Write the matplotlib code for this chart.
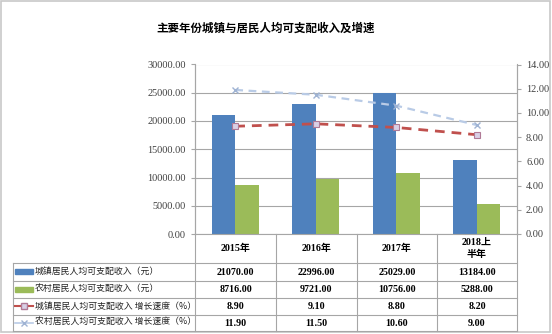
import matplotlib.pyplot as plt
from matplotlib.lines import Line2D
from matplotlib.patches import Rectangle
import numpy as np

plt.rcParams['font.family'] = ['Liberation Serif', 'Noto Sans CJK SC']

# data
years = ['2015年', '2016年', '2017年', '2018上\n半年']
urban_income = [21070.00, 22996.00, 25029.00, 13184.00]
rural_income = [8716.00, 9721.00, 10756.00, 5288.00]
urban_growth = [8.90, 9.10, 8.80, 8.20]
rural_growth = [11.90, 11.50, 10.60, 9.00]
series_names = ['城镇居民人均可支配收入（元）',
                '农村居民人均可支配收入（元）',
                '城镇居民人均可支配收入 增长速度（%）',
                '农村居民人均可支配收入 增长速度（%）']

BLUE = '#4F81BD'
GREEN = '#9BBB59'
RED = '#C0504D'
LBLUE = '#B9CBE6'
GRID = '#A6A6A6'
SQ_FACE = '#D9D0E6'
SQ_EDGE = '#B07A96'
X_EDGE = '#9FB3D3'
CJK = ['Noto Sans CJK SC', 'DejaVu Sans']

W, H = 552, 334
fig = plt.figure(figsize=(W / 100, H / 100), dpi=100)


def fx(px):
    return px / W


def fy(py):
    return 1 - py / H


# plot area in pixels
L, R, T, B = 195, 517, 64.5, 234
ax = fig.add_axes([fx(L), fy(B), fx(R - L), fy(T) - fy(B)])
ax2 = ax.twinx()

x = np.arange(len(years))
bw = 0.29
ax.bar(x - bw / 2, urban_income, bw, color=BLUE, zorder=3)
ax.bar(x + bw / 2, rural_income, bw, color=GREEN, zorder=3)
ax.set_xlim(-0.5, len(years) - 0.5)
ax.set_ylim(0, 30000)
ax.set_yticks(np.arange(0, 30001, 5000))
ax.set_yticklabels([f'{v:.2f}' for v in np.arange(0, 30001, 5000)])
ax.set_xticks([])
ax.grid(axis='y', color=GRID, linewidth=0.8, zorder=0)
ax.set_axisbelow(True)

ax2.plot(x, urban_growth, color=RED, linestyle=(0, (3.5, 2.5)), linewidth=2,
         marker='s', markersize=5, markerfacecolor=SQ_FACE,
         markeredgecolor=SQ_EDGE, markeredgewidth=0.8, zorder=4)
ax2.plot(x, rural_growth, color=LBLUE, linestyle=(0, (3.5, 2.5)), linewidth=1.6,
         marker='x', markersize=5, markeredgecolor=X_EDGE,
         markeredgewidth=1, zorder=4)
ax2.set_ylim(0, 14)
ax2.set_yticks(np.arange(0, 14.01, 2))
ax2.set_yticklabels([f'{v:.2f}' for v in np.arange(0, 14.01, 2)])

for a in (ax, ax2):
    for s in ('top', 'bottom'):
        a.spines[s].set_visible(False)
    a.spines['left'].set_color(GRID)
    a.spines['right'].set_color(GRID)
    a.tick_params(axis='y', labelsize=7.4, colors=GRID, length=3,
                  labelcolor='#404040', width=0.8, pad=3.5)

# data table under the plot
col_edges = [195, 276, 357, 437, 517]
row_edges = [263, 280.5, 297.5, 314.5, 331]
tbl_left = 13
lc = '#A6A6A6'
lw = 0.8
for xe in col_edges:
    fig.add_artist(Line2D([fx(xe), fx(xe)], [fy(B), fy(row_edges[-1])],
                          color=lc, lw=lw))
fig.add_artist(Line2D([fx(tbl_left), fx(tbl_left)],
                      [fy(row_edges[0]), fy(row_edges[-1])], color=lc, lw=lw))
fig.add_artist(Line2D([fx(L), fx(R)], [fy(B), fy(B)], color=lc, lw=lw))
for ye in row_edges:
    fig.add_artist(Line2D([fx(tbl_left), fx(R)], [fy(ye), fy(ye)],
                          color=lc, lw=lw))

# header row with category names
for i, yr in enumerate(years):
    cx = (col_edges[i] + col_edges[i + 1]) / 2
    fig.text(fx(cx), fy((B + row_edges[0]) / 2), yr, ha='center', va='center',
             fontsize=7.2, fontweight='bold', linespacing=1.3,
             family=['Liberation Serif', 'Noto Sans CJK SC'])

rows = [urban_income, rural_income, urban_growth, rural_growth]
for r, vals in enumerate(rows):
    cy = (row_edges[r] + row_edges[r + 1]) / 2
    for i, v in enumerate(vals):
        cx = (col_edges[i] + col_edges[i + 1]) / 2
        fig.text(fx(cx), fy(cy + 0.5), f'{v:.2f}', ha='center', va='center',
                 fontsize=7.2, fontweight='bold')
    # legend key
    if r < 2:
        fig.add_artist(Rectangle((fx(15), fy(cy + 2.5)), fx(18), fy(0) - fy(5),
                                 color=BLUE if r == 0 else GREEN))
    elif r == 2:
        fig.add_artist(Line2D([fx(15), fx(33)], [fy(cy), fy(cy)], color=RED,
                              lw=1.5))
        fig.add_artist(Line2D([fx(24)], [fy(cy)], marker='s', markersize=4,
                              markerfacecolor=SQ_FACE, markeredgecolor=SQ_EDGE,
                              linestyle='none'))
    else:
        fig.add_artist(Line2D([fx(15), fx(33)], [fy(cy), fy(cy)], color=LBLUE,
                              lw=1.2))
        fig.add_artist(Line2D([fx(24)], [fy(cy)], marker='x', markersize=4,
                              markeredgecolor=X_EDGE, linestyle='none'))
    fig.text(fx(35), fy(cy), series_names[r], ha='left', va='center',
             fontsize=6.4, family=CJK, color='#222222')

fig.text(fx(266), fy(28), '主要年份城镇与居民人均可支配收入及增速', ha='center',
         va='center', fontsize=8.3, fontweight='bold', family=CJK)

# outer frame
fig.add_artist(Rectangle((fx(1), fy(332)), fx(549), fy(1) - fy(332),
                         fill=False, edgecolor='#C8C8C8', lw=1.2))

fig.savefig('out.png', dpi=100)
